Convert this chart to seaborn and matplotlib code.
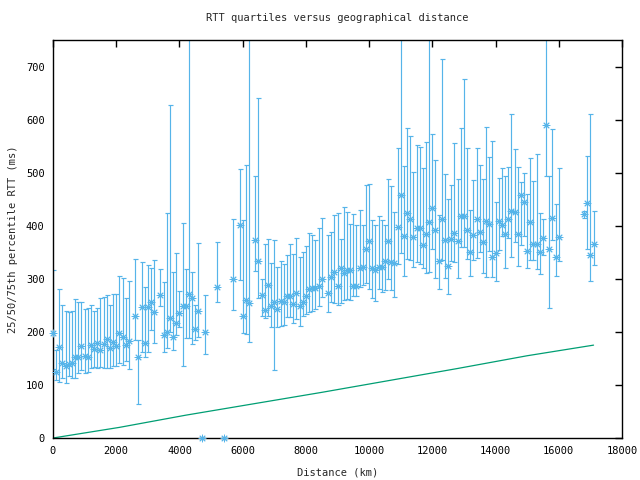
import numpy as np
import pandas as pd
import matplotlib
matplotlib.use("Agg")
import matplotlib.pyplot as plt
import seaborn as sns

# ---- data ----
distance_km = [0, 100, 200, 300, 400, 500, 600, 700, 800, 900, 1000, 1100, 1200, 1300, 1400,
               1500, 1600, 1700, 1800, 1900, 2000, 2100, 2200, 2300, 2400, 2600, 2700, 2800,
               2900, 3000, 3100, 3200, 3400, 3500, 3600, 3700, 3800, 3900, 4000, 4100, 4200,
               4300, 4400, 4500, 4600, 4700, 4800, 5200, 5400, 5700, 5900, 6000, 6100, 6200,
               6400, 6500, 6600, 6700, 6800, 6900, 7000, 7100, 7200, 7300, 7400, 7500, 7600,
               7700, 7800, 7900, 8000, 8100, 8200, 8300, 8400, 8500, 8700, 8800, 8900, 9000,
               9100, 9200, 9300, 9400, 9500, 9600, 9700, 9800, 9900, 10000, 10100, 10200,
               10300, 10400, 10500, 10600, 10700, 10800, 10900, 11000, 11100, 11200, 11300,
               11400, 11500, 11600, 11700, 11800, 11900, 12000, 12100, 12200, 12300, 12400,
               12500, 12600, 12700, 12800, 12900, 13000, 13100, 13200, 13300, 13400, 13500,
               13600, 13700, 13800, 13900, 14000, 14100, 14200, 14300, 14400, 14500, 14600,
               14700, 14800, 14900, 15000, 15100, 15200, 15300, 15400, 15500, 15600, 15700,
               15800, 15900, 16000, 16800, 16900, 17000, 17100]

rtt_median = [198, 124, 172, 141, 136, 139, 141, 152, 152, 174, 154, 153, 175, 168, 179,
              165, 178, 187, 170, 180, 174, 198, 191, 175, 182, 229, 153, 246,
              179, 246, 256, 238, 270, 194, 199, 227, 191, 216, 235, 248, 248,
              272, 264, 206, 240, 0, 199, 284, 0, 299, 402, 230, 260, 254,
              374, 334, 270, 242, 289, 249, 256, 243, 258, 257, 267, 267, 252,
              273, 249, 257, 268, 281, 282, 282, 286, 299, 273, 304, 313, 287,
              321, 311, 316, 316, 287, 287, 320, 323, 356, 371, 321, 316,
              323, 323, 334, 371, 331, 330, 397, 458, 381, 424, 413,
              379, 396, 396, 364, 385, 407, 433, 392, 334, 413, 374,
              325, 375, 387, 372, 419, 418, 392, 350, 383, 413, 389,
              370, 408, 404, 341, 348, 408, 402, 385, 413, 428, 425,
              385, 457, 445, 353, 407, 366, 366, 350, 377, 589, 356,
              415, 342, 379, 423, 443, 345, 366]

rtt_q25 = [130, 109, 106, 113, 104, 116, 113, 113, 123, 128, 123, 125, 132, 133, 132,
           133, 132, 132, 132, 135, 135, 142, 138, 146, 130, 185, 64, 163,
           153, 163, 204, 179, 248, 163, 170, 200, 166, 194, 210, 136, 189,
           189, 177, 184, 191, 0, 158, 256, 0, 242, 298, 198, 196, 180,
           315, 264, 230, 227, 230, 210, 128, 209, 211, 213, 228, 228, 216,
           224, 211, 229, 234, 237, 240, 243, 248, 265, 238, 257, 254, 250,
           254, 260, 262, 260, 267, 268, 284, 289, 292, 281, 264, 258,
           281, 276, 279, 300, 279, 265, 328, 348, 306, 337, 335,
           322, 331, 328, 320, 311, 312, 356, 301, 281, 336, 301,
           272, 333, 331, 301, 360, 360, 337, 306, 335, 339, 350,
           311, 303, 352, 303, 296, 355, 380, 321, 377, 341, 370,
           325, 364, 381, 320, 336, 336, 318, 309, 345, 494, 245,
           374, 306, 333, 415, 356, 296, 326]

rtt_q75 = [317, 165, 281, 250, 240, 238, 240, 262, 257, 257, 243, 245, 250, 240, 245,
           264, 266, 270, 251, 272, 272, 306, 302, 264, 296, 338, 185, 332,
           285, 326, 321, 336, 319, 294, 424, 628, 312, 349, 277, 405, 319,
           900, 313, 250, 368, 0, 269, 369, 0, 413, 507, 411, 515, 900,
           494, 641, 300, 366, 375, 330, 374, 323, 333, 328, 345, 366, 347,
           377, 341, 351, 362, 387, 382, 374, 396, 414, 383, 388, 421, 424,
           375, 435, 426, 404, 423, 401, 429, 402, 477, 479, 411, 402,
           419, 410, 402, 488, 475, 425, 547, 900, 513, 584, 569,
           502, 552, 548, 509, 558, 900, 572, 523, 421, 714, 497,
           450, 477, 556, 488, 584, 677, 547, 430, 487, 547, 515,
           488, 586, 530, 560, 445, 490, 509, 493, 511, 611, 545,
           511, 482, 499, 460, 528, 485, 535, 424, 413, 900, 494,
           582, 441, 509, 427, 532, 611, 427]

min_distance_km = [0, 2100, 4200, 6400, 8500, 10700, 12800, 15000, 17100]
min_rtt = [0, 20, 43, 65, 86, 109, 131, 155, 175]

xticks = [0, 2000, 4000, 6000, 8000, 10000, 12000, 14000, 16000, 18000]
yticks = [0, 100, 200, 300, 400, 500, 600, 700]

df = pd.DataFrame({"distance": distance_km, "median": rtt_median,
                   "q25": rtt_q25, "q75": rtt_q75})
df_min = pd.DataFrame({"distance": min_distance_km, "rtt": min_rtt})

# ---- style ----
sns.set_style("white")
plt.rcParams["font.family"] = ["DejaVu Sans Mono"]
plt.rcParams["font.size"] = 7.5

blue = "#56b4e9"
green = "#009e73"

fig = plt.figure(figsize=(6.4, 4.8), dpi=100)
ax = fig.add_axes([53 / 640, 1 - 438 / 480, (622 - 53) / 640, (438 - 40) / 480])

ax.errorbar(df["distance"], df["median"],
            yerr=[df["median"] - df["q25"], df["q75"] - df["median"]],
            fmt="none", ecolor=blue, elinewidth=0.85, capsize=1.8, capthick=0.85)
sns.scatterplot(data=df, x="distance", y="median", ax=ax, marker=(8, 2, 0),
                s=24, color=blue, edgecolor=blue, linewidth=0.7, clip_on=False,
                legend=False, zorder=3)
sns.lineplot(data=df_min, x="distance", y="rtt", ax=ax, color=green, linewidth=0.9)

ax.set_xlim(0, 18000)
ax.set_ylim(0, 750)
ax.set_xticks(xticks)
ax.set_yticks(yticks)
ax.set_xticklabels([str(v) for v in xticks])
ax.set_yticklabels([str(v) for v in yticks])
ax.tick_params(direction="in", length=5, width=1, top=True, right=True, pad=6,
               colors="black", labelsize=7.5)
for s in ax.spines.values():
    s.set_color("black")
    s.set_linewidth(1.0)

ax.set_xlabel("Distance (km)", fontsize=7.5, labelpad=8)
ax.set_ylabel("25/50/75th percentile RTT (ms)", fontsize=7.5, labelpad=6)
ax.set_title("RTT quartiles versus geographical distance", fontsize=7.5, pad=14)

fig.savefig("out.png", dpi=100)
